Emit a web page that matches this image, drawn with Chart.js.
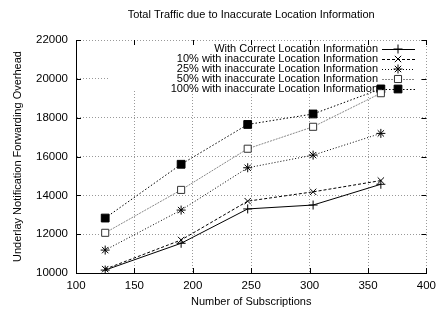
<!DOCTYPE html>
<html>
<head>
<meta charset="utf-8">
<script src="https://cdn.jsdelivr.net/npm/chart.js@4"></script>
<style>
  html, body { margin: 0; padding: 0; background: #fff; }
  #wrap { width: 442px; height: 309px; }
</style>
</head>
<body>
<div id="wrap"><canvas id="trafficChart" width="442" height="309"></canvas></div>
<script>
const subscriptions = [125, 190, 247, 303, 361];
const correctInfo = [10150, 11530, 13300, 13500, 14570];
const inaccurate10 = [10200, 11700, 13700, 14180, 14760];
const inaccurate25 = [11180, 13240, 15420, 16070, 17190];
const inaccurate50 = [12070, 14280, 16400, 17530, 19260];
const inaccurate100 = [12830, 15600, 17650, 18190, 19480];

const chartTitle = 'Total Traffic due to Inaccurate Location Information';
const seriesLabels = [
    'With Correct Location Information',
    '10% with inaccurate Location Information',
    '25% with inaccurate Location Information',
    '50% with inaccurate Location Information',
    '100% with inaccurate Location Information'
];
const xTicks = [100, 150, 200, 250, 300, 350, 400];
const yTicks = [10000, 12000, 14000, 16000, 18000, 20000, 22000];

const FONT = "'Liberation Sans', Arial, Helvetica, sans-serif";

function toPoints(values) {
    return values.map((v, i) => ({ x: subscriptions[i], y: v }));
}

const datasets = [
    { label: seriesLabels[0], data: toPoints(correctInfo), borderColor: '#000', borderDash: [],
      pointStyle: 'cross', pointRadius: 4.5, pointBackgroundColor: '#000' },
    { label: seriesLabels[1], data: toPoints(inaccurate10), borderColor: '#000', borderDash: [3, 2],
      pointStyle: 'crossRot', pointRadius: 4.5, pointBackgroundColor: '#000' },
    { label: seriesLabels[2], data: toPoints(inaccurate25), borderColor: '#000', borderDash: [1, 2],
      pointStyle: 'star', pointRadius: 4.5, pointBackgroundColor: '#000' },
    { label: seriesLabels[3], data: toPoints(inaccurate50), borderColor: '#888', borderDash: [2, 1],
      pointStyle: 'rect', pointRadius: 5, pointBackgroundColor: '#fff', pointBorderColor: '#333' },
    { label: seriesLabels[4], data: toPoints(inaccurate100), borderColor: '#000', borderDash: [1.5, 2],
      pointStyle: 'rect', pointRadius: 5.5, pointBackgroundColor: '#000' }
].map(ds => Object.assign({
    borderWidth: 1,
    pointBorderWidth: 1,
    pointBorderColor: ds.pointBorderColor || '#000',
    fill: false,
    tension: 0
}, ds));

// gnuplot look: opaque key box, inward tics, key samples on the right
const gnuplotBits = {
    id: 'gnuplotBits',
    beforeDatasetsDraw(chart) {
        const { ctx, chartArea } = chart;
        ctx.save();
        ctx.fillStyle = '#fff';
        ctx.fillRect(108, chartArea.top + 1, chartArea.right - 109, 48);
        ctx.restore();
    },
    afterDraw(chart) {
        const { ctx, chartArea, scales } = chart;
        ctx.save();
        ctx.fillStyle = '#000';
        ctx.font = '11px ' + FONT;
        ctx.textAlign = 'center';
        ctx.textBaseline = 'middle';
        ctx.fillText(chartTitle, (chartArea.left + chartArea.right) / 2, 15);

        ctx.strokeStyle = '#000';
        ctx.lineWidth = 1;
        ctx.beginPath();
        xTicks.forEach(t => {
            const x = Math.round(scales.x.getPixelForValue(t)) + 0.5;
            ctx.moveTo(x, chartArea.bottom); ctx.lineTo(x, chartArea.bottom - 5);
            ctx.moveTo(x, chartArea.top); ctx.lineTo(x, chartArea.top + 5);
        });
        yTicks.forEach(t => {
            const y = Math.round(scales.y.getPixelForValue(t)) + 0.5;
            ctx.moveTo(chartArea.left, y); ctx.lineTo(chartArea.left + 5, y);
            ctx.moveTo(chartArea.right, y); ctx.lineTo(chartArea.right - 5, y);
        });
        ctx.stroke();

        ctx.textAlign = 'right';
        chart.data.datasets.forEach((ds, i) => {
            const y = chartArea.top + 9 + i * 10;
            ctx.fillStyle = '#000';
            ctx.fillText(ds.label, 378, y);
            ctx.beginPath();
            ctx.setLineDash(ds.borderDash);
            ctx.strokeStyle = ds.borderColor;
            ctx.moveTo(382, y + 0.5);
            ctx.lineTo(415, y + 0.5);
            ctx.stroke();
            ctx.setLineDash([]);
            ctx.fillStyle = ds.pointBackgroundColor;
            ctx.strokeStyle = ds.pointBorderColor;
            Chart.helpers.drawPoint(ctx, {
                pointStyle: ds.pointStyle, radius: ds.pointRadius, rotation: 0, borderWidth: 1
            }, 398, y);
        });
        ctx.restore();
    }
};

new Chart(document.getElementById('trafficChart'), {
    type: 'line',
    data: { datasets: datasets },
    plugins: [gnuplotBits],
    options: {
        responsive: false,
        animation: false,
        layout: { padding: { top: 40, right: 13, left: 0, bottom: 0 } },
        plugins: {
            legend: { display: false },
            tooltip: { enabled: false },
            title: { display: false }
        },
        scales: {
            x: {
                type: 'linear',
                min: 100, max: 400,
                afterBuildTicks: s => { s.ticks = xTicks.map(v => ({ value: v })); },
                afterFit: s => { s.height = 36; },
                border: { color: '#000', width: 1, dash: [1, 2] },
                grid: { color: '#999', drawTicks: false },
                ticks: { color: '#000', padding: 6, font: { family: FONT, size: 11.5 } },
                title: { display: true, text: 'Number of Subscriptions', color: '#000', padding: 0,
                         font: { family: FONT, size: 11 } }
            },
            y: {
                min: 10000, max: 22000,
                afterBuildTicks: s => { s.ticks = yTicks.map(v => ({ value: v })); },
                afterFit: s => { s.width = 76; },
                border: { color: '#000', width: 1, dash: [1, 2] },
                grid: { color: '#999', drawTicks: false },
                ticks: { color: '#000', padding: 8, font: { family: FONT, size: 11.5 },
                         callback: v => String(v) },
                title: { display: true, text: 'Underlay Notification Forwarding Overhead', color: '#000',
                         padding: { top: 11, bottom: 0 }, font: { family: FONT, size: 11 } }
            }
        }
    }
});
</script>
</body>
</html>
